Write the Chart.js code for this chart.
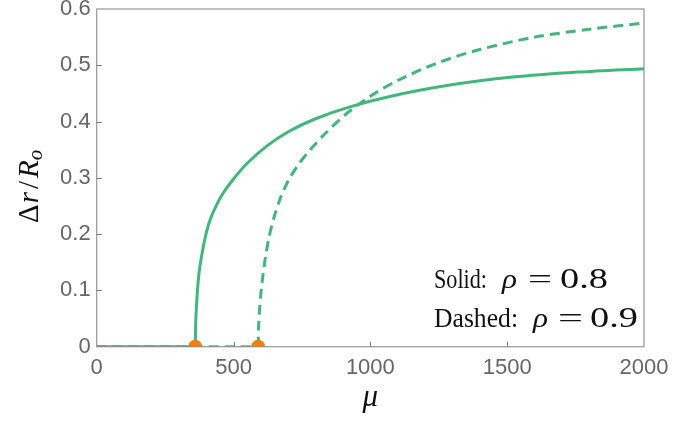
<!DOCTYPE html>
<html>
<head>
<meta charset="utf-8">
<script src="https://cdn.jsdelivr.net/npm/chart.js@4.4.1/dist/chart.umd.min.js"></script>
<style>
  html, body { margin: 0; padding: 0; background: #fff; }
  canvas { display: block; }
</style>
</head>
<body>
<canvas id="chart" width="690" height="424"></canvas>
<script>
// Solid curve, rho = 0.8  (mu, dr/Ro)
const solidMu  = [360, 362, 365, 369, 375, 384, 396, 412, 435, 465, 500, 550, 620, 700, 800, 925, 1075, 1280, 1520, 1760, 2000];
const solidVal = [0, 0.045, 0.075, 0.105, 0.135, 0.163, 0.193, 0.222, 0.249, 0.275, 0.298, 0.326, 0.356, 0.382, 0.405, 0.426, 0.445, 0.464, 0.479, 0.488, 0.494];
// Dashed curve, rho = 0.9
const dashedMu  = [590, 592, 595, 600, 607, 617, 630, 648, 672, 700, 735, 780, 840, 910, 1000, 1100, 1250, 1400, 1600, 1800, 2000];
const dashedVal = [0, 0.040, 0.065, 0.095, 0.125, 0.160, 0.195, 0.230, 0.265, 0.295, 0.322, 0.350, 0.381, 0.413, 0.445, 0.473, 0.505, 0.528, 0.550, 0.564, 0.575];
// zero branch before onset
const solidFlatMu = [0, 360];
const dashedFlatMu = [0, 590];
// onset points (orange)
const onsetMu = [360, 590];
const onsetVal = [0, 0];

const xTicks = [0, 500, 1000, 1500, 2000];
const yTicks = [0, 0.1, 0.2, 0.3, 0.4, 0.5, 0.6];

const green = '#41b77b';
const orange = '#f27f0a';

function pts(xs, ys) {
    return xs.map((x, i) => ({ x: x, y: ys[i] }));
}

function lineSet(data, dashed, tension) {
    return {
        data: data,
        showLine: true,
        borderColor: green,
        borderWidth: 3,
        borderDash: dashed ? [10, 6] : [],
        pointRadius: 0,
        tension: tension,
        fill: false
    };
}

// frame, inside ticks, axis titles and the note
const decorations = {
    id: 'decorations',
    afterDatasetsDraw(chart) {
        const ctx = chart.ctx;
        const a = chart.chartArea;
        const xs = chart.scales.x, ys = chart.scales.y;
        ctx.save();
        ctx.strokeStyle = 'rgba(140,140,140,0.85)';
        ctx.lineWidth = 1.3;
        ctx.strokeRect(a.left, a.top, a.right - a.left, a.bottom - a.top);
        ctx.strokeStyle = '#777';
        ctx.lineWidth = 1;
        ctx.beginPath();
        xTicks.slice(1, -1).forEach(v => {
            const px = Math.round(xs.getPixelForValue(v)) + 0.5;
            ctx.moveTo(px, a.bottom);
            ctx.lineTo(px, a.bottom - 5);
        });
        yTicks.slice(1, -1).forEach(v => {
            const py = Math.round(ys.getPixelForValue(v)) + 0.5;
            ctx.moveTo(a.left, py);
            ctx.lineTo(a.left + 5, py);
        });
        ctx.stroke();
        ctx.restore();
    },
    afterDraw(chart) {
        const ctx = chart.ctx;
        const a = chart.chartArea;
        ctx.save();
        ctx.fillStyle = '#111';
        ctx.textBaseline = 'alphabetic';

        // x title
        ctx.font = 'italic 31px "Liberation Serif"';
        ctx.textAlign = 'center';
        ctx.fillText('\u03bc', (a.left + a.right) / 2, 406);

        // y title, rotated: Δr / R_o
        ctx.translate(38, 223);
        ctx.rotate(-Math.PI / 2);
        ctx.textAlign = 'left';
        let x = 0;
        ctx.font = '29px "Liberation Serif"';
        ctx.fillText('\u0394', x, 0); x += ctx.measureText('\u0394').width + 1;
        ctx.font = 'italic 29px "Liberation Serif"';
        ctx.fillText('r', x, 0); x += ctx.measureText('r').width + 3;
        ctx.font = '29px "Liberation Serif"';
        ctx.fillText('/', x, 0); x += ctx.measureText('/').width + 3;
        ctx.font = 'italic 29px "Liberation Serif"';
        ctx.fillText('R', x, 0); x += ctx.measureText('R').width;
        ctx.font = 'italic 21px "Liberation Serif"';
        ctx.fillText('o', x, 4);
        ctx.setTransform(1, 0, 0, 1, 0, 0);

        // note text, each piece fitted to its span
        const piece = (txt, font, x0, x1, base) => {
            ctx.font = font;
            const w = ctx.measureText(txt).width;
            ctx.save();
            ctx.translate(x0, base);
            ctx.scale((x1 - x0) / w, 1);
            ctx.fillText(txt, 0, 0);
            ctx.restore();
        };
        const rm = '27px "Liberation Serif"';
        const num = '30px "Liberation Serif"';
        const it = 'italic 27px "Liberation Serif"';
        piece('Solid:', rm, 434, 487, 288);
        piece('\u03c1', it, 502, 517, 288);
        piece('=', rm, 528, 552, 288);
        piece('0.8', num, 560, 608, 288);
        piece('Dashed:', rm, 434, 518, 327);
        piece('\u03c1', it, 533, 548, 327);
        piece('=', rm, 558, 583, 327);
        piece('0.9', num, 590, 638, 327);
        ctx.restore();
    }
};

new Chart(document.getElementById('chart'), {
    type: 'scatter',
    data: {
        datasets: [
            {
                data: pts(onsetMu, onsetVal),
                pointRadius: 7,
                pointBackgroundColor: orange,
                pointBorderWidth: 0,
                showLine: false,
                clip: 0
            },
            lineSet(pts(solidFlatMu, [0, 0]), false, 0),
            lineSet(pts(solidMu, solidVal), false, 0.3),
            lineSet(pts(dashedFlatMu, [0, 0]), true, 0),
            lineSet(pts(dashedMu, dashedVal), true, 0.3)
        ]
    },
    options: {
        responsive: false,
        animation: false,
        layout: { padding: { top: 9, right: 46, left: 0, bottom: 0 } },
        plugins: {
            legend: { display: false },
            tooltip: { enabled: false }
        },
        scales: {
            x: {
                type: 'linear',
                min: 0,
                max: 2000,
                grid: { display: false, drawTicks: false },
                border: { display: false },
                afterBuildTicks: s => { s.ticks = xTicks.map(v => ({ value: v })); },
                ticks: {
                    padding: 8,
                    color: '#666',
                    font: { family: 'Liberation Sans', size: 22 },
                    maxRotation: 0,
                    callback: v => String(v)
                },
                afterFit: s => { s.height = 77.3; s.paddingLeft = 0; s.paddingRight = 0; }
            },
            y: {
                min: 0,
                max: 0.6,
                grid: { display: false, drawTicks: false },
                border: { display: false },
                afterBuildTicks: s => { s.ticks = yTicks.map(v => ({ value: v })); },
                ticks: {
                    padding: 6,
                    color: '#666',
                    font: { family: 'Liberation Sans', size: 22 },
                    callback: v => v === 0 ? '0' : v.toFixed(1)
                },
                afterFit: s => { s.width = 96.7; s.paddingTop = 0; s.paddingBottom = 0; }
            }
        }
    },
    plugins: [decorations]
});
</script>
</body>
</html>
